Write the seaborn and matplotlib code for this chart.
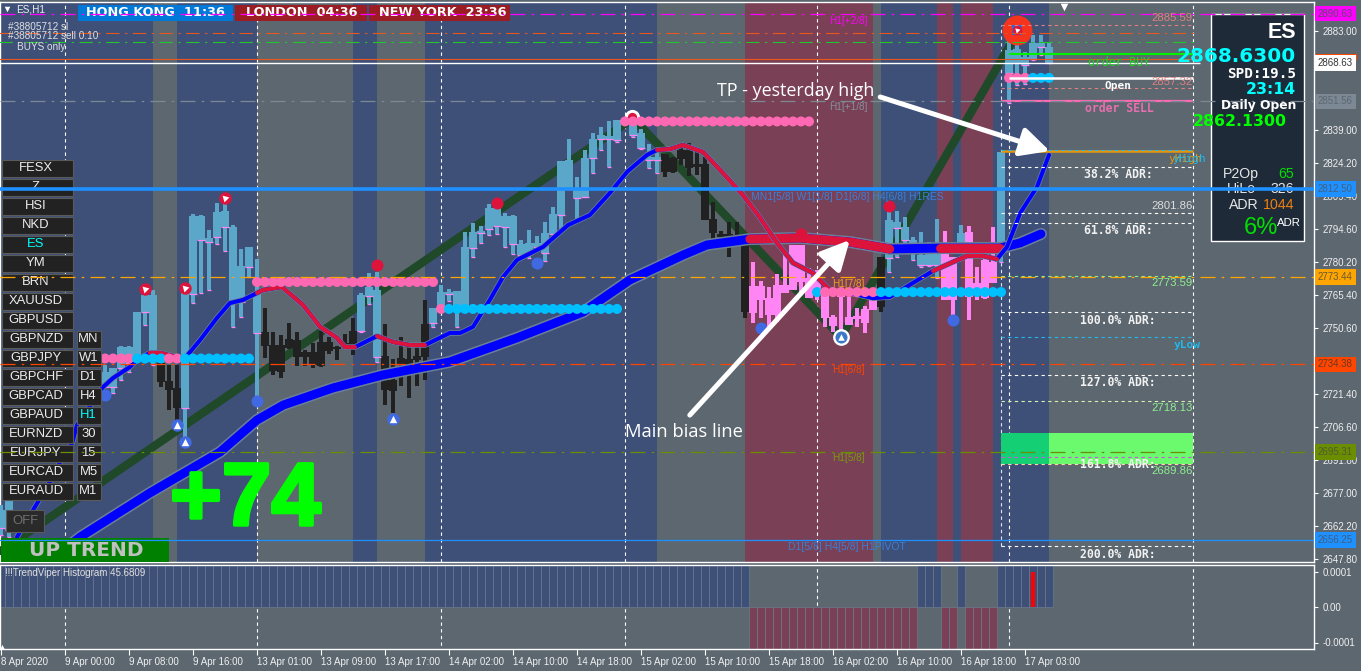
import numpy as np
import pandas as pd
import seaborn as sns
import matplotlib
matplotlib.use("Agg")
import matplotlib.pyplot as plt
import matplotlib.patheffects as pe
from matplotlib.patches import Rectangle
from matplotlib.transforms import Affine2D

nan = float("nan")
# ---------------- DATA ----------------
highs = [2671.8,2676.2]+[nan]*11+[2734.1,2732.8,2742.6,2742.6,2757.7,2766.2,2767.5,2738.6,2734.1,2734.1,2766.2,2801.4,2800.9,2794.3,2806.3,2806.3,2796.5,2785.8,2786.7,2781.3,
 2759.5,2748.8,2747.5,2752.8,2748.8,2740.8,2743.9,2749.3,2746.6,2742.6,2747.9,2755.1,2766.2,2775.1,2775.6,2752.4,2736.8,2746.6,2742.1,2742.1,2763.1,
 2759.5,2769.8,2768.0,2767.1,2793.4,2797.4,2796.0,2805.8,2806.3,2801.8,2800.9,2789.8,2794.3,2791.6,2797.8,2804.5,2825.0,2834.8,2817.9,2829.9,2837.5,2840.1,2842.8,2843.3,2844.1,2844.1,2839.2,2832.6,2828.6,
 2828.1,2826.8,2833.0,2833.0,2829.0,2826.8,2806.7,2793.8,2797.8,2797.8,2787.6,
 2780.0,2771.5,2768.9,2774.7,2783.1,2787.6,2787.6,2777.3,2776.4,2766.2,2756.4,2765.3,2764.4,2759.5,2760.4,2764.4,2782.2,
 2802.7,2802.7,2800.0,2791.1,2793.4,2788.9,2799.2,2793.8,2782.2,2796.5,2796.0,2777.8,2784.0,2795.6,2829.0,2878.9,2880.2,2873.5,2881.1,2881.1,2877.5]
body_tops = [2669.5,2674.0]+[nan]*11+[2731.0,2732.8,2742.1,2742.1,2757.7,2765.3,2765.3,2735.0,2727.0,2723.9,2766.2,2800.5,2800.5,2790.7,2802.3,2802.7,2795.6,2778.2,2786.7,2766.2,
 2748.8,2743.0,2743.0,2745.7,2745.3,2739.9,2739.9,2744.4,2744.4,2742.1,2743.9,2749.3,2765.3,2768.9,2767.5,2738.1,2727.4,2737.2,2736.8,2738.1,2752.4,
 2759.5,2766.6,2766.6,2767.1,2786.7,2793.4,2793.8,2804.1,2804.1,2800.5,2800.5,2788.0,2788.5,2788.5,2792.9,2801.4,2825.0,2825.4,2812.1,2826.3,2834.8,2836.6,2836.1,2843.3,2843.7,2841.0,2837.5,2826.8,2826.8,
 2828.1,2826.3,2829.9,2829.9,2823.7,2823.7,2799.2,2792.5,2792.5,2792.0,2787.6,
 2769.3,2769.3,2763.9,2769.8,2769.8,2787.6,2787.6,2772.9,2772.0,2766.2,2755.5,2765.3,2755.5,2756.0,2759.1,2763.9,2782.2,
 2798.7,2797.8,2795.6,2789.8,2783.1,2784.0,2788.5,2787.6,2782.2,2792.9,2793.4,2770.7,2780.9,2780.0,2829.0,2874.4,2874.9,2871.3,2877.5,2877.5,2875.8]
body_bottoms = [2661.5,2660.6]+[nan]*11+[2724.3,2724.3,2732.8,2735.0,2736.4,2757.7,2736.4,2726.6,2723.0,2714.9,2714.9,2765.8,2789.8,2788.9,2791.1,2795.6,2762.2,2762.2,2777.8,2748.4,
 2742.6,2731.5,2731.0,2741.7,2737.7,2737.7,2734.1,2733.7,2740.4,2741.3,2742.6,2743.0,2749.3,2764.9,2737.7,2723.0,2722.5,2734.1,2729.7,2736.4,2737.7,
 2752.8,2758.6,2765.8,2758.6,2760.0,2786.2,2792.9,2794.7,2796.0,2795.6,2788.0,2783.1,2783.6,2786.7,2784.0,2792.5,2800.9,2812.5,2808.5,2809.0,2826.3,2834.8,2834.8,2834.3,2842.8,2836.6,2830.8,2825.4,2825.4,
 2820.1,2820.1,2825.9,2821.9,2822.3,2798.7,2792.9,2791.1,2791.1,2791.6,2757.7,
 2757.3,2763.1,2756.4,2756.4,2766.2,2767.5,2771.1,2763.9,2766.2,2755.1,2751.5,2764.4,2751.9,2754.6,2752.8,2758.6,2760.0,
 2781.8,2795.2,2789.8,2788.5,2778.7,2778.7,2778.7,2763.1,2763.1,2787.6,2764.4,2765.3,2763.9,2770.7,2787.6,2864.2,2868.6,2867.7,2870.4,2875.8,2868.6]
lows = [2658.4,2657.5]+[nan]*11+[2724.3,2721.7,2727.4,2731.0,2736.4,2751.9,2734.1,2724.3,2714.1,2709.6,2702.0,2761.7,2766.2,2767.5,2788.0,2784.9,2751.1,2755.5,2773.3,2719.9,
 2737.2,2729.7,2728.3,2741.3,2733.7,2733.7,2732.8,2733.2,2739.0,2736.4,2741.7,2738.6,2748.8,2761.3,2735.5,2716.3,2712.7,2724.8,2719.4,2724.8,2727.4,
 2751.1,2758.6,2762.6,2751.1,2760.0,2782.2,2788.5,2792.0,2792.5,2786.7,2783.6,2782.7,2781.8,2785.4,2780.5,2792.5,2795.2,2812.5,2798.7,2809.0,2819.6,2829.9,2822.3,2833.5,2841.5,2835.7,2830.3,2821.9,2819.6,
 2817.9,2819.6,2823.2,2818.3,2818.8,2798.7,2789.4,2790.7,2782.2,2791.6,2755.1,
 2752.8,2755.1,2750.6,2753.3,2766.2,2767.5,2765.3,2763.9,2763.1,2751.1,2748.8,2749.3,2751.9,2751.1,2748.4,2758.6,2757.7,
 2775.6,2782.2,2788.5,2780.9,2777.8,2778.2,2772.9,2763.1,2756.4,2786.2,2754.2,2763.1,2763.5,2770.7,2780.0,2850.8,2858.8,2859.3,2870.0,2872.2,2868.6]
candle_kinds = "b"*20+"k"*3+"b"*10+"k"*12+"b"*3+"k"*6+"b"*29+"k"*11+"p"*16+"k"+"b"*7+"pp"+"b"+"pppp"+"b"*7

zone_starts = [0,19,22,32,44,47,53,82,93,109,110,117,119,120,124,131]
zone_kinds  = "bgbgbgbgmgbmbmb"

slow_bars   = [8.6,9.9,18.6,27.4,32,35.3,41.5,47.75,56.1,64.5,72.75,78.6,85.25,88.25,93.6,99.9,106.1,111.1,117.4,124.9,127.4,130]
slow_prices = [2653.9,2657.5,2677.1,2695.4,2709.6,2716.3,2723.9,2729.7,2735.5,2746.2,2757.7,2772.0,2783.1,2787.6,2790.2,2790.7,2788.9,2785.8,2786.2,2786.2,2788.5,2792.5]
slow_red_spans = [(93.6,111.1),(117.4,124.9)]

fast_bars = [2,6.1,7.4,8.9,9.5,12.75,14,16.1,17,18.6,19.9,21.5,23,24.9,27,28.6,30.25,32,32.75,35.1,37.75,39.9,42,43,44.25,47,49,51.1,53,56.1,57.4,59,61.1,62.75,64.5,67.75,70.9,73.6,76.1,78.25,80.75,82,83.6,85.25,87.75,90.25,92.75,94.9,97,99,101.5,103.6,106.1,109,111.1,114,116.5,119,120.75,122.75,124.5,125.75,127.4,129.5,131]
fast_prices = [2657.5,2682.0,2690.9,2699.4,2707.4,2724.3,2728.3,2733.2,2736.4,2739.5,2739.5,2738.1,2737.2,2745.3,2755.1,2761.7,2763.1,2766.2,2767.5,2768.9,2760.9,2751.1,2746.2,2742.1,2742.1,2747.0,2744.4,2743.0,2743.0,2748.4,2748.4,2751.1,2763.1,2773.3,2780.9,2786.7,2796.5,2800.9,2810.7,2820.1,2827.7,2829.9,2830.3,2832.1,2829.0,2819.6,2809.8,2799.6,2788.5,2779.6,2775.1,2767.5,2766.2,2763.9,2764.4,2770.7,2776.0,2780.0,2782.7,2782.7,2781.3,2786.7,2801.8,2813.4,2827.7]
fast_red_spans = [(18.6,21.5),(32,44.25),(47,53),(82,103.6),(116.5,124.5)]

zigzag_bars   = [0,79,105,127]
zigzag_prices = [2651.3,2844.0,2746.6,2882.0]

pivot_price = [2737.0,2737.0,2737.0,2737.0,2771.1,2759.1,2759.1,2842.6,2766.6,2766.6,2766.6,2862.0,2862.0]
pivot_first = [12,17,21,23,32,55,56,78,102,103,110,126,129]
pivot_last  = [16,20,22,31,54,55,77,101,102,109,125,128,131]
pivot_kind  = ["res","sup","res","sup","res","res","sup","res","sup","res","sup","res","sup"]

red_dot_bars = [47,62,100,111]
red_dot_prices = [2778.6,2806.3,2792.5,2805.0]
blue_dot_bars = [13,32,67,95,119]
blue_dot_prices = [2720.8,2718.1,2779.6,2750.6,2754.2]
sell_arrow_bars = [18,23,28]
sell_arrow_prices = [2767.9,2768.4,2808.5]
buy_arrow_bars = [22,23,49]
buy_arrow_prices = [2707.4,2699.8,2710.0]

hist_kinds = "u"*94+"d"*21+"uuu"+"dd"+"u"+"dddd"+"u"*7
hist_size = 0.00012
hist_red_bar, hist_red_value = 129, 0.0001

price_ticks = [2883.0,2839.0,2824.2,2809.4,2794.6,2780.2,2765.4,2750.6,2721.4,2706.6,2691.8,2677.0,2662.2,2647.8]
time_bars = [0,8,16,24,32,40,48,56,64,72,80,88,96,104,112,120,128]
time_labels = ["8 Apr 2020","9 Apr 00:00","9 Apr 08:00","9 Apr 16:00","13 Apr 01:00","13 Apr 09:00","13 Apr 17:00","14 Apr 02:00","14 Apr 10:00","14 Apr 18:00","15 Apr 02:00","15 Apr 10:00","15 Apr 18:00","16 Apr 02:00","16 Apr 10:00","16 Apr 18:00","17 Apr 03:00"]
separator_bars = [8,32,55,78,102,126,149]

level_prices = [2890.63,2851.56,2812.50,2773.44,2734.38,2695.31,2656.25]
level_colors = ["#FF00FF","#7C8894","#1E90FF","#FFA500","#FF4500","#6B8E00","#1E90FF"]

symbols = ["FESX","Z","HSI","NKD","ES","YM","BRN","XAUUSD","GBPUSD","GBPNZD","GBPJPY","GBPCHF","GBPCAD","GBPAUD","EURNZD","EURJPY","EURCAD","EURAUD"]
timeframes = ["MN","W1","D1","H4","H1","30","15","M5","M1"]

# ---------------- STYLE ----------------
BG = "#5C6770"; ZB = "#3E5078"; ZM = "#7A4055"
sns.set_theme(style="dark")
plt.rcParams["font.family"] = ["Liberation Sans", "DejaVu Sans"]
plt.rcParams["axes.unicode_minus"] = False
W, H, BW = 1361, 671, 8.0
fig = plt.figure(figsize=(13.61, 6.71), dpi=100, facecolor=BG)
ax = fig.add_axes([0, (H-562)/H, 1314/W, 560/H], facecolor=BG)
sub = fig.add_axes([0, (H-649)/H, 1314/W, 84/H], facecolor=BG)
pix = Affine2D().scale(1, -1).translate(0, H)
xlim = (-1/BW, 1313/BW)
P0, PS = 2896.69, 0.4454
ylim = (P0-PS*562, P0-PS*2)

# zones
zcol = {"b": ZB, "g": BG, "m": ZM}
for a, b, k in zip(zone_starts[:-1], zone_starts[1:], zone_kinds):
    ax.axvspan(a, b, color=zcol[k], lw=0, zorder=1)

# separators
sep = (0, (3, 3))
ax.vlines(separator_bars, *ylim, color="white", lw=0.8, linestyles=sep, zorder=2)
sub.vlines(separator_bars, -1, 1, color="white", lw=0.8, linestyles=sep, zorder=1)
ax.vlines([125], 2653.5, 2885.59, color="#DDE8F5", lw=0.8, linestyles=sep, zorder=2)

# zigzag
sns.lineplot(x=zigzag_bars, y=zigzag_prices, ax=ax, color="#20492A", lw=6.0, zorder=3, sort=False, estimator=None, solid_joinstyle="miter")

# candles
ccol = {"b": "#5AA7CA", "k": "#212121", "p": "#FF85F5"}
for i, (h, t, b, l, k) in enumerate(zip(highs, body_tops, body_bottoms, lows, candle_kinds)):
    if np.isnan(h):
        continue
    ax.bar(i, h-l, bottom=l, width=3.2/BW, color=ccol[k], lw=0, zorder=4)
    ax.bar(i, max(t-b, 0.5), bottom=b, width=7.6/BW, color=ccol[k], lw=0, zorder=4)
    if k == "b":
        ax.hlines(b, i-3.8/BW, i+3.8/BW, color="#FF85F5", lw=0.9, zorder=4.1)
        ax.hlines(l, i-1.6/BW, i+1.6/BW, color="#FF85F5", lw=0.9, zorder=4.1)

# green target box
ax.axhspan(2689.86, 2703.7, xmin=(125+1/BW)/(xlim[1]-xlim[0]), xmax=(131+1/BW)/(xlim[1]-xlim[0]), color="#15CF75", lw=0, zorder=4.5)
ax.axhspan(2689.86, 2703.7, xmin=(131+1/BW)/(xlim[1]-xlim[0]), xmax=(149+1/BW)/(xlim[1]-xlim[0]), color="#6BFA6E", lw=0, zorder=4.5)

def ma(bars, prices, spans, lw_in, lw_out, z):
    bars = np.array(bars); prices = np.array(prices)
    kw = dict(ax=ax, sort=False, estimator=None, solid_capstyle="round", solid_joinstyle="round")
    sns.lineplot(x=bars, y=prices, color="#6B7F99", lw=lw_out, zorder=z, **kw)
    sns.lineplot(x=bars, y=prices, color="#0000FF", lw=lw_in, zorder=z+0.1, **kw)
    for a, b in spans:
        m = (bars >= a) & (bars <= b)
        sns.lineplot(x=bars[m], y=prices[m], color="#DC143C", lw=lw_in, zorder=z+0.2, **kw)

ma(slow_bars, slow_prices, slow_red_spans, 6.4, 8.6, 5)
ma(fast_bars, fast_prices, fast_red_spans, 2.9, 4.0, 6)

# pivot dots
rows = []
for p, a, b, k in zip(pivot_price, pivot_first, pivot_last, pivot_kind):
    for i in range(a, b+1):
        rows.append((i, p, k))
piv = pd.DataFrame(rows, columns=["bar", "price", "kind"])
sns.scatterplot(data=piv, x="bar", y="price", hue="kind", palette={"res": "#FF69B4", "sup": "#00BFFF"},
                s=52, linewidth=0, legend=False, ax=ax, zorder=7)
sns.scatterplot(x=red_dot_bars, y=red_dot_prices, color="#DC143C", s=75, linewidth=0, ax=ax, zorder=7.2)
sns.scatterplot(x=blue_dot_bars, y=blue_dot_prices, color="#4169E1", s=75, linewidth=0, ax=ax, zorder=7.2)
sns.scatterplot(x=sell_arrow_bars, y=sell_arrow_prices, color="#DC143C", s=80, linewidth=0, ax=ax, zorder=7.2)
ax.scatter(sell_arrow_bars, sell_arrow_prices, marker=(3, 0, 165), s=34, color="white", lw=0, zorder=7.3)
sns.scatterplot(x=buy_arrow_bars, y=buy_arrow_prices, color="#4169E1", s=80, linewidth=0, ax=ax, zorder=7.2)
ax.scatter(buy_arrow_bars, buy_arrow_prices, marker="^", s=28, color="white", lw=0, zorder=7.3)
# ringed signals
ax.scatter([127], [2883.3], s=460, color="#F5341E", lw=0, zorder=7.2)
ax.scatter([127], [2883.3], s=60, marker="s", color="#2A6FD8", lw=0, zorder=7.3)
ax.scatter([127], [2883.3], s=48, color="#DC143C", lw=0, zorder=7.35)
ax.scatter([127], [2883.3], s=20, marker=(3, 0, 165), color="white", lw=0, zorder=7.4)
ax.scatter([105], [2746.6], s=145, color="white", lw=0, zorder=7.2)
ax.scatter([105], [2746.6], s=75, color="#3B78C8", lw=0, zorder=7.3)
ax.scatter([105], [2746.6], s=22, marker="^", color="white", lw=0, zorder=7.4)
ax.scatter([78.9], [2844.6], s=120, color="white", lw=0, zorder=6.8)
ax.scatter([78.9], [2844.6], s=45, color="#DC143C", lw=0, zorder=6.9)

# horizontal levels
dd = (0, (12, 5, 2, 5))
for p, c in zip(level_prices, level_colors):
    if p == 2812.50:
        ax.axhline(p, color=c, lw=2.6, zorder=10)
    elif p == 2656.25:
        ax.axhline(p, color=c, lw=0.9, zorder=10)
    else:
        ax.axhline(p, color=c, lw=0.9, ls=dd, zorder=10)
ax.hlines(2882.0, -1, 149.5, color="#E8581E", lw=0.8, linestyles=dd, zorder=10)
ax.hlines(2878.0, -1, 149.5, color="#22C52A", lw=0.8, linestyles=dd, zorder=10)
ax.hlines(2870.4, -1, 149.5, color="#E8581E", lw=0.8, zorder=10)
ax.hlines(2868.63, -1, 149.9, color="white", lw=1.0, zorder=10.1)

# ADR box levels
lvl = [(2885.59,"#E08080"),(2857.32,"#E08080"),(2822.3,"white"),(2801.86,"white"),(2797.4,"white"),(2773.59,"#90EE90"),
       (2757.7,"white"),(2746.6,"#22B8E8"),(2729.7,"white"),(2718.13,"#D8F0B0"),(2689.86,"#FFD9A0"),(2653.5,"white")]
for p, c in lvl:
    ax.hlines(p, 125, 149, color=c, lw=0.8, linestyles=sep, zorder=9.5)
ax.hlines(2693.1, 125, 149, color="#D050E0", lw=0.8, linestyles=sep, zorder=9.5)
ax.hlines(2872.6, 126, 149, color="#00F000", lw=1.5, zorder=9.5)
ax.hlines(2862.13, 126, 149, color="white", lw=1.8, zorder=9.5)
ax.hlines(2851.7, 125, 149, color="#FF69B4", lw=1.6, zorder=9.5)
ax.hlines(2829.3, 125, 149, color="#E8960A", lw=1.8, zorder=9.5)
ax.hlines(2829.8, 125, 149, color="#22B8E8", lw=0.8, linestyles=sep, zorder=9.6)

def T(x, y, s, color="white", size=8, ha="left", va="center", z=11, **kw):
    return ax.text(x, y, s, color=color, fontsize=size, ha=ha, va=va, transform=pix, zorder=z, clip_on=False, **kw)

def R(x0, y0, x1, y1, fc, ec="none", lw=0, z=9):
    ax.add_patch(Rectangle((x0, y0), x1-x0, y1-y0, fc=fc, ec=ec, lw=lw, transform=pix, zorder=z, clip_on=False))

# arrows
arrow = dict(arrowstyle="-|>,head_length=1.1,head_width=0.55", lw=3.6, color="white", shrinkA=0, shrinkB=0, mutation_scale=16)
ax.annotate("", xy=(106.1, 2789.8), xytext=(86.1, 2711.8), arrowprops=arrow, zorder=12)
ax.annotate("", xy=(131.1, 2829.4), xytext=(109.9, 2853.5), arrowprops=arrow, zorder=12)
T(717, 91, "TP - yesterday high", size=12.9, family=["Open Sans"])
T(625, 432, "Main bias line", size=13.2, family=["Open Sans"])

# channel text
T(848, 21, "H1[+2/8]", "#FF00FF", 7.2, ha="center")
T(848, 107, "H1[+1/8]", "#84909B", 7.2, ha="center")
T(751, 197, "MN1[5/8] W1[1/8] D1[6/8] H4[6/8] H1RES", "#3A7FD8", 7.5)
T(848, 284, "H1[7/8]", "#F0A020", 7.2, ha="center")
T(848, 370, "H1[6/8]", "#FF4500", 7.2, ha="center")
T(848, 458, "H1[5/8]", "#7B9A10", 7.2, ha="center")
T(847, 547, "D1[5/8] H4[5/8] H1PIVOT", "#3A7FD8", 7.5, ha="center")

# ADR text
mono = ["DejaVu Sans Mono"]
for y, s in [(175,"38.2% ADR:"),(231,"61.8% ADR:"),(320,"100.0% ADR:"),(383,"127.0% ADR:"),(465,"161.8% ADR:"),(554,"200.0% ADR:")]:
    T(1118, y, s, "#F2F2F2", 8.3, ha="center", family=mono, weight="bold")
T(1119, 62, "order BUY", "#18D818", 8.3, ha="center", family=mono)
T(1118, 86, "Open", "white", 8.0, ha="center", family=mono, weight="bold")
T(1119, 109, "order SELL", "#E86FAF", 8.3, ha="center", family=mono, weight="bold")
for y, s, c in [(18,"2885.59","#E08080"),(82,"2857.32","#E08080"),(206,"2801.86","#DDDDDD"),(283,"2773.59","#90EE90"),(408,"2718.13","#90EE90"),(471,"2689.86","#90EE90")]:
    T(1193, y, s, c, 8.2, ha="right")
T(1168, 159, "yHigh", "#E8960A", 8, family=mono)
T(1172, 159, "yHigh", "#22B8E8", 8, family=mono)
T(1174, 345, "yLow", "#22B8E8", 8, family=mono, weight="bold")

# info panel
R(1210.5, 13.5, 1304, 241, "#1E2A38", "white", 1, z=9)
T(1296, 33, "ES", "white", 15.5, ha="right", weight="bold", z=9.5)
T(1296, 56, "2868.6300", "#00FFFF", 14.4, ha="right", weight="bold", family=["DejaVu Sans"], z=11)
T(1296, 74, "SPD:19.5", "white", 10.3, ha="right", weight="bold", family=mono, z=11)
T(1296, 90, "23:14", "#00FFFF", 11.3, ha="right", weight="bold", family=["DejaVu Sans"], z=11)
T(1296, 105, "Daily Open", "white", 8.8, ha="right", weight="bold", family=["DejaVu Sans"], z=11)
T(1193, 122, "2862.1300", "#00FF00", 11.3, weight="bold", family=["DejaVu Sans"], z=11)
T(1223, 174, "P2Op", "#E6E6E6", 10.2, z=9.5)
T(1294, 174, "65", "#00E000", 10.2, ha="right", z=9.5)
T(1227, 189, "HiLo", "#E6E6E6", 10.2, z=9.5)
T(1294, 189, "326", "#E6E6E6", 10.2, ha="right", z=9.5)
T(1229, 205, "ADR", "#E6E6E6", 10.2, z=9.5)
T(1294, 205, "1044", "#F08010", 10.2, ha="right", z=9.5)
T(1278, 228, "6%", "#00E000", 17, ha="right", z=9.5)
T(1277, 223, "ADR", "white", 8.2, z=9.5)

# symbol buttons
for n, s in enumerate(symbols):
    y = 168 + 19*n
    R(2, y-8.5, 72.5, y+8.5, "#222222", "#5A5A5A", 0.8, z=8.5)
    T(36, y, s, "#00FFFF" if s == "ES" else "#EDEDED", 9.4, ha="center", z=9)
for n, s in enumerate(timeframes):
    y = 339 + 19*n
    R(76.5, y-8.5, 101, y+8.5, "#222222", "#5A5A5A", 0.8, z=8.5)
    T(88.5, y, s, "#00FFFF" if s == "H1" else "#EDEDED", 9.4, ha="center", z=9)
R(6, 510, 44, 532, "#2A2A2A", "#5A5A5A", 0.8, z=8.5)
T(25, 521, "OFF", "#707070", 9.4, ha="center", z=9)
R(1, 538, 169, 562, "#008000", z=8.5)
T(86, 550, "UP TREND", "#C0C0C0", 14.4, ha="center", weight="bold", family=["DejaVu Sans"], z=9)
big = T(245.5, 502, "+74", "#00FF00", 64, ha="center", weight="bold", z=9)
big.set_path_effects([pe.withStroke(linewidth=2.5, foreground="#00FF00")])

# header
R(78, 5, 233, 21, "#0078D7", z=8.5)
R(235, 5, 367, 21, "#9B1C22", z=8.5)
R(369, 5, 510, 21, "#9B1C22", z=8.5)
hdr = dict(size=9.3, weight="bold", family=["DejaVu Sans"], z=9, ha="center")
T(155.5, 13, "HONG KONG  11:36", "white", **hdr)
T(301.5, 13, "LONDON  04:36", "white", **hdr)
T(443, 13, "NEW YORK  23:36", "white", **hdr)
ax.scatter([0.7], [2892.7], marker="v", s=16, color="white", lw=0, zorder=11)
T(16, 10, "ES,H1", "#EDEDED", 7.2)
T(8, 27, "#38805712 sl", "#E0E0E0", 7.2)
T(8, 36, "#38805712 sell 0.10", "#E0E0E0", 7.2)
T(17, 47, "BUYS only", "#E0E0E0", 7.2)
ax.scatter([132.9], [2893.5], marker="v", s=30, color="white", lw=0, zorder=11)

# right price labels
ytr = ax.get_yaxis_transform()
R(1316, 54, 1357, 60, "#FF4500", z=19)
tag_prices = [2890.63,2868.63,2851.56,2812.50,2773.44,2734.38,2695.31,2656.25]
tag_colors = ["#FF00FF","white","#7C8894","#1E90FF","#FFA500","#FF4500","#6B8E00","#1E90FF"]
tag_text = ["#5A4A6A","#333333","#5C6770","#45617F","#6A5A30","#6A3A20","#505A30","#3F5F80"]
tag_names = ["2890.63","2868.63","2851.56","2812.50","2773.44","2734.38","2695.31","2656.25"]
for p, c, tc, s in zip(tag_prices, tag_colors, tag_text, tag_names):
    ax.text(1.0030, p, s, color=tc, fontsize=7.0, ha="left", va="center", transform=ytr, clip_on=False, zorder=20,
            bbox=dict(fc=c, ec="none", pad=2.0))

# sub window
for i, k in enumerate(hist_kinds):
    sub.bar(i, hist_size if k == "u" else -hist_size, width=1.0,
            color=ZB if k == "u" else ZM, edgecolor="#6C7A8C", lw=0.5, zorder=2)
sub.bar(hist_red_bar, hist_red_value, width=4/BW, color="#FF0000", lw=0, zorder=3)
sub.text(5, 573, "!!!TrendViper Histogram 45.6809", color="#E0E0E0", fontsize=7.0, va="center", transform=pix, zorder=6, clip_on=False)
sub.scatter([0.1], [-0.000113], marker="^", s=14, color="white", lw=0, zorder=6)

# axes
ax.set_xlim(*xlim); ax.set_ylim(*ylim); ax.set_xlabel(""); ax.set_ylabel("")
sub.set_xlim(*xlim); sub.set_ylim(-42/35.5*1e-4, 42/35.5*1e-4); sub.set_xlabel(""); sub.set_ylabel("")
ax.set_xticks([])
ax.yaxis.tick_right()
ax.set_yticks(price_ticks, [f"{v:.2f}" for v in price_ticks])
ax.tick_params(axis="y", length=3, width=0.8, color="white", labelcolor="#F0F0F0", labelsize=7.0, pad=3, right=True)
sub.yaxis.tick_right()
sub.set_yticks([1e-4, 0, -1e-4], ["0.0001", "0.00", "-0.0001"])
sub.tick_params(axis="y", length=3, width=0.8, color="white", labelcolor="#F0F0F0", labelsize=7.0, pad=3, right=True)
sub.set_xticks(time_bars, time_labels, ha="left")
sub.tick_params(axis="x", length=4, width=0.8, color="white", labelcolor="#F0F0F0", labelsize=7.0, pad=1.5, bottom=True)
for a in (ax, sub):
    a.grid(False)
    for sp in a.spines.values():
        sp.set_color("white"); sp.set_linewidth(1.0); sp.set_visible(True)
    a.set_axisbelow(False)

fig.savefig("out.png", dpi=100, facecolor=BG)
